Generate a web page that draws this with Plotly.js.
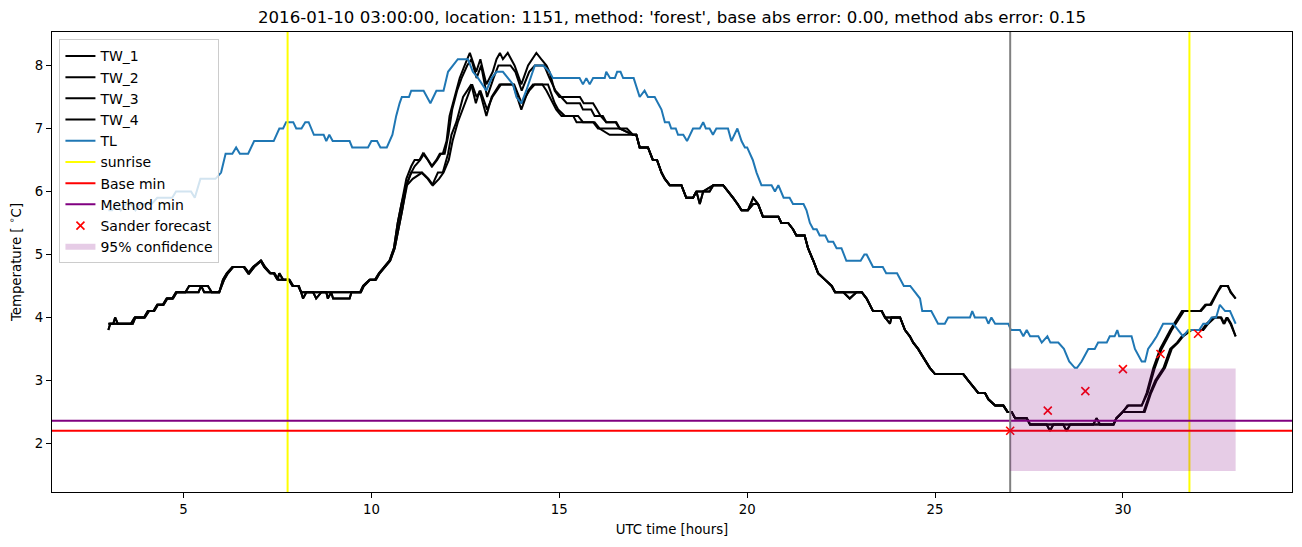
<!DOCTYPE html>
<html>
<head>
<meta charset="utf-8">
<script src="https://cdn.plot.ly/plotly-3.0.1.min.js"></script>
<style>html,body{margin:0;padding:0;background:#fff;}#chart{width:1302px;height:547px;}</style>
</head>
<body>
<div id="chart"></div>
<script>
// ---------------- data ----------------
const titleText = "2016-01-10 03:00:00, location: 1151, method: 'forest', base abs error: 0.00, method abs error: 0.15";

// TL (air temperature) breakpoints
const tl_t = [3.0,3.1,3.2,3.33,3.47,3.6,3.72,3.85,4.15,4.3,
4.7,4.8,5.2,5.3,5.45,5.85,6.0,6.12,6.3,6.4,
6.5,6.72,6.88,7.4,7.55,7.65,7.73,7.92,8.0,8.14,
8.24,8.33,8.47,8.73,8.8,8.88,8.97,9.42,9.49,9.91,
10.0,10.15,10.24,10.41,10.56,10.66,10.75,10.81,11.0,11.06,
11.39,11.57,11.73,11.92,12.04,12.17,12.3,12.57,12.7,12.84,
13.06,13.2,13.33,13.5,13.63,13.77,13.86,13.99,14.12,14.35,
14.57,14.74,14.83,15.54,15.63,15.72,15.81,15.9,16.21,16.25,
16.35,16.48,16.54,16.63,16.7,16.98,17.14,17.27,17.36,17.54,
17.72,17.81,17.92,17.98,18.1,18.16,18.3,18.4,18.56,18.74,
18.83,18.9,19.0,19.09,19.18,19.49,19.58,19.74,19.85,19.94,
20.0,20.15,20.25,20.38,20.65,20.74,20.83,20.97,21.13,21.22,
21.5,21.58,21.67,21.76,21.85,21.93,22.08,22.16,22.29,22.38,
22.51,22.64,23.02,23.12,23.18,23.35,23.61,23.7,23.99,24.17,
24.34,24.46,24.6,24.66,24.9,25.08,25.26,25.35,25.93,25.99,
26.06,26.35,26.42,26.5,26.6,26.95,27.02,27.26,27.35,27.44,
27.53,27.75,27.84,27.99,28.07,28.28,28.43,28.57,28.72,28.78,
28.9,28.99,29.08,29.25,29.34,29.57,29.65,29.78,29.85,29.9,
30.23,30.32,30.41,30.5,30.59,30.67,30.79,30.9,31.07,31.34,
31.47,31.6,31.74,32.03,32.14,32.25,32.36,32.48,32.58,32.72,
32.85,33.0];
const tl_v = [5.7,5.7,5.8,5.7,5.8,5.8,5.7,5.8,5.8,5.9,
5.9,6.0,6.0,5.9,6.2,6.2,6.3,6.6,6.6,6.7,
6.6,6.6,6.8,6.8,7.0,7.0,7.1,7.1,7.0,7.0,
7.1,7.1,6.9,6.9,6.8,6.9,6.8,6.8,6.7,6.7,
6.8,6.8,6.7,6.7,6.9,7.2,7.4,7.5,7.5,7.6,
7.6,7.4,7.6,7.6,7.9,8.0,8.1,8.1,7.9,7.8,
7.6,7.8,7.9,7.9,7.8,7.7,7.5,7.4,7.6,8.0,
8.0,7.9,7.8,7.8,7.7,7.8,7.7,7.8,7.8,7.9,
7.8,7.8,7.9,7.9,7.8,7.8,7.5,7.6,7.5,7.5,
7.3,7.1,7.1,7.0,7.0,6.9,6.9,6.8,7.0,7.0,
7.1,7.0,7.0,6.9,7.0,7.0,6.8,7.0,6.8,6.7,
6.7,6.5,6.3,6.1,6.1,6.0,6.1,5.9,5.9,5.8,
5.8,5.7,5.5,5.4,5.4,5.3,5.3,5.2,5.2,5.1,
5.1,4.9,4.9,5.0,5.0,4.8,4.8,4.7,4.7,4.5,
4.5,4.4,4.3,4.1,4.1,3.9,3.9,4.0,4.0,4.1,
4.0,4.0,3.9,4.0,3.9,3.9,3.8,3.8,3.7,3.8,
3.7,3.7,3.6,3.7,3.6,3.6,3.5,3.3,3.2,3.2,
3.3,3.4,3.5,3.5,3.6,3.6,3.7,3.7,3.8,3.7,
3.7,3.5,3.4,3.3,3.3,3.5,3.6,3.7,3.9,3.9,
3.8,3.7,3.8,3.8,3.9,3.9,4.0,4.0,4.2,4.1,
4.1,3.9];

// TW segments: early (3-10.8h), two variants
const twEarlyA_t = [3.0,3.05,3.6,3.7,3.95,4.05,4.2,4.3,4.45,4.55,4.7,4.8,5.05,5.15,5.65,5.75,5.95,6.05,6.15,6.3,6.6,6.72,6.85,7.05,7.15,7.3,7.4,7.5,7.55,7.65,7.8,7.9,8.05,8.13,9.7,9.78,9.95,10.1,10.2,10.35,10.48,10.6,10.7,10.8];
const twEarlyA_v = [3.8,3.9,3.9,4.0,4.0,4.1,4.1,4.2,4.2,4.3,4.3,4.4,4.4,4.5,4.5,4.4,4.4,4.6,4.7,4.8,4.8,4.7,4.8,4.9,4.8,4.7,4.7,4.6,4.7,4.6,4.6,4.5,4.5,4.4,4.4,4.5,4.6,4.6,4.7,4.8,4.9,5.1,5.5,5.8];
const twEarlyB_t = [3.0,3.13,3.18,3.25,3.65,3.72,3.97,4.08,4.22,4.32,4.47,4.57,4.72,4.82,5.1,5.4,5.47,5.55,5.95,6.08,6.18,6.32,6.62,6.75,6.88,7.07,7.17,7.32,7.42,7.52,7.67,7.82,7.92,8.07,8.13,8.18,8.27,8.45,8.53,8.67,8.8,8.84,8.93,8.98,9.42,9.47,9.72,9.8,9.97,10.12,10.22,10.37,10.5,10.62,10.72,10.82];
const twEarlyB_v = [3.9,3.9,4.0,3.9,3.9,4.0,4.0,4.1,4.1,4.2,4.2,4.3,4.3,4.4,4.4,4.4,4.5,4.4,4.4,4.6,4.7,4.8,4.8,4.7,4.8,4.9,4.8,4.7,4.7,4.6,4.6,4.6,4.5,4.5,4.4,4.3,4.4,4.4,4.3,4.4,4.4,4.3,4.4,4.3,4.3,4.4,4.4,4.5,4.6,4.6,4.7,4.8,4.9,5.1,5.4,5.7];

// TW segments: midday (10.9-17h), four lines
const tw1Mid_t = [10.93,11.06,11.15,11.28,11.37,11.5,11.6,11.73,11.82,11.9,12.0,12.08,12.22,12.35,12.48,12.62,12.79,12.9,13.06,13.23,13.33,13.42,13.5,13.63,13.81,13.99,14.17,14.39,14.52,14.66,14.74,14.88,15.0,15.55,15.65,15.9,16.0,16.1,16.25,16.5,16.6,16.8,16.96];
const tw1Mid_v = [6.2,6.4,6.5,6.5,6.6,6.5,6.4,6.5,6.6,6.6,6.8,7.2,7.5,7.8,8.0,8.2,7.9,8.1,7.7,7.9,8.1,8.2,8.1,8.2,8.0,7.7,8.0,8.2,8.1,8.0,7.9,7.6,7.5,7.5,7.4,7.4,7.3,7.2,7.1,7.1,7.0,7.0,6.9];
const tw2Mid_t = [10.93,11.06,11.15,11.3,11.4,11.5,11.62,11.75,11.85,11.95,12.05,12.15,12.28,12.4,12.55,12.66,12.8,12.92,13.08,13.25,13.38,13.7,13.83,14.0,14.2,14.35,14.6,14.74,14.9,15.05,15.2,15.55,15.63,15.85,15.94,16.16,16.25,16.52,16.61,16.96];
const tw2Mid_v = [6.1,6.3,6.4,6.5,6.6,6.5,6.4,6.5,6.6,6.6,6.9,7.3,7.6,7.8,8.0,8.1,7.8,8.0,7.5,7.8,8.0,8.0,7.9,7.6,7.9,8.0,8.0,7.8,7.6,7.5,7.4,7.4,7.3,7.3,7.2,7.2,7.1,7.1,7.0,6.9];
const tw3Mid_t = [10.93,11.06,11.33,11.5,11.62,11.77,11.9,12.04,12.13,12.26,12.44,12.66,12.78,12.88,13.06,13.2,13.41,13.77,13.99,14.17,14.3,14.55,14.66,14.92,15.06,15.37,15.46,15.9,16.03,16.61,16.96];
const tw3Mid_v = [6.1,6.3,6.3,6.2,6.1,6.3,6.3,6.6,6.9,7.1,7.5,7.7,7.4,7.6,7.2,7.5,7.7,7.7,7.3,7.6,7.7,7.7,7.6,7.3,7.2,7.2,7.1,7.1,7.0,7.0,6.9];
const tw4Mid_t = [10.95,11.1,11.35,11.52,11.64,11.8,11.92,12.06,12.16,12.3,12.48,12.68,12.8,12.9,13.08,13.22,13.45,13.8,14.0,14.2,14.35,14.6,14.7,14.88,14.97,15.15,15.5,15.63,15.94,16.07,16.34,16.56,16.96];
const tw4Mid_v = [6.1,6.2,6.3,6.2,6.1,6.2,6.3,6.5,6.8,7.1,7.4,7.7,7.5,7.6,7.3,7.5,7.7,7.7,7.4,7.6,7.7,7.7,7.7,7.4,7.3,7.2,7.2,7.1,7.1,7.0,6.9,6.9,6.9];

// TW segments: evening/night (17-29.8h), two variants
const twLateA_t = [17.05,17.14,17.36,17.49,17.6,17.72,17.81,17.94,18.25,18.38,18.56,18.65,18.83,19.0,19.1,19.36,19.49,19.63,19.75,19.85,20.02,20.16,20.29,20.42,20.83,20.91,21.09,21.22,21.31,21.53,21.62,21.76,21.89,22.07,22.25,22.34,22.56,22.91,23.05,23.18,23.35,23.58,23.67,23.8,23.84,24.07,24.2,24.33,24.42,24.55,24.65,24.75,24.86,25.0,25.75,25.88,26.02,26.15,26.33,26.42,26.6,26.82,26.93,27.04,27.13,27.44,27.53,29.21,29.3,29.39,29.75,29.83];
const twLateA_v = [6.9,6.7,6.7,6.5,6.5,6.3,6.2,6.1,6.1,5.9,5.9,6.0,6.0,6.0,6.1,6.1,6.0,5.9,5.8,5.7,5.7,5.8,5.8,5.6,5.6,5.5,5.5,5.4,5.3,5.3,5.1,4.9,4.7,4.6,4.5,4.4,4.4,4.4,4.4,4.3,4.1,4.1,4.0,3.9,4.0,4.0,3.8,3.7,3.6,3.5,3.4,3.3,3.2,3.1,3.1,3.0,2.9,2.8,2.8,2.7,2.6,2.6,2.5,2.5,2.4,2.4,2.3,2.3,2.4,2.3,2.3,2.4];
const twLateB_t = [17.05,17.14,17.36,17.49,17.6,17.72,17.81,17.94,18.25,18.38,18.56,18.65,18.74,18.83,19.1,19.36,19.49,19.63,19.85,20.02,20.16,20.29,20.42,20.83,20.91,21.09,21.22,21.31,21.53,21.62,21.76,21.89,22.07,22.25,22.34,22.56,22.73,22.91,23.05,23.18,23.35,23.58,23.67,23.8,24.07,24.2,24.33,24.42,24.55,24.65,24.75,24.86,25.0,25.75,25.88,26.02,26.15,26.33,26.42,26.6,26.82,26.93,27.04,27.13,27.44,27.53,27.97,28.06,28.15,28.41,28.5,28.6,29.75,29.83];
const twLateB_v = [6.9,6.7,6.7,6.5,6.5,6.3,6.2,6.1,6.1,5.9,5.9,6.0,5.8,6.0,6.1,6.1,6.0,5.9,5.7,5.7,5.9,5.8,5.6,5.6,5.5,5.5,5.4,5.3,5.3,5.1,4.9,4.7,4.6,4.5,4.4,4.4,4.3,4.4,4.4,4.3,4.1,4.1,4.0,4.0,4.0,3.8,3.7,3.6,3.5,3.4,3.3,3.2,3.1,3.1,3.0,2.9,2.8,2.8,2.7,2.6,2.6,2.5,2.5,2.4,2.4,2.3,2.3,2.2,2.3,2.3,2.2,2.3,2.3,2.4];

// TW segments: morning (30-33h)
const twEndUpA_t = [30.0,30.12,30.5,30.63,30.81,30.99,31.26,31.57,32.05,32.19,32.32,32.5,32.6,32.8,32.86,33.0];
const twEndUpA_v = [2.5,2.6,2.6,2.8,3.2,3.5,3.8,4.1,4.1,4.2,4.2,4.4,4.5,4.5,4.4,4.3];
const twEndUpB_t = [30.0,30.15,30.5,30.66,30.85,31.03,31.3,31.62,32.08,32.22,32.35,32.52,32.63,32.78,32.88,33.0];
const twEndUpB_v = [2.5,2.6,2.6,2.8,3.2,3.5,3.8,4.1,4.1,4.2,4.2,4.4,4.5,4.5,4.4,4.3];
const twEndLoA_t = [30.0,30.55,30.72,30.86,31.08,31.26,31.44,31.57,31.8,32.1,32.23,32.4,32.6,32.68,32.76,32.86,33.0];
const twEndLoA_v = [2.5,2.5,2.8,3.0,3.2,3.5,3.6,3.7,3.8,3.8,3.9,4.0,4.0,3.9,4.0,3.9,3.7];
const twEndLoB_t = [30.0,30.58,30.75,30.9,31.12,31.3,31.47,31.6,31.83,32.14,32.27,32.45,32.62,32.7,32.78,32.88,33.0];
const twEndLoB_v = [2.5,2.5,2.8,3.0,3.2,3.5,3.6,3.7,3.8,3.8,3.9,4.0,4.0,3.9,4.0,3.9,3.7];

const sunrise = [7.77, 31.77];
const forecastStart = 27;
const baseMin = 2.2;
const methodMin = 2.36;
const forecast_t = [27, 28, 29, 30, 31, 32];
const forecast_v = [2.2, 2.52, 2.83, 3.18, 3.42, 3.74];
const conf_t = [27, 33];
const conf_lo = 1.56;
const conf_hi = 3.19;

// ---------------- build series ----------------
const cat = (...a) => [].concat(...a);
const tw = [
  {name: 'TW_1', x: cat(twEarlyA_t, tw1Mid_t, twLateA_t, twEndUpA_t), y: cat(twEarlyA_v, tw1Mid_v, twLateA_v, twEndUpA_v)},
  {name: 'TW_2', x: cat(twEarlyB_t, tw2Mid_t, twLateB_t, twEndUpB_t), y: cat(twEarlyB_v, tw2Mid_v, twLateB_v, twEndUpB_v)},
  {name: 'TW_3', x: cat(twEarlyA_t, tw3Mid_t, twLateB_t, twEndLoA_t), y: cat(twEarlyA_v, tw3Mid_v, twLateB_v, twEndLoA_v)},
  {name: 'TW_4', x: cat(twEarlyB_t, tw4Mid_t, twLateA_t, twEndLoB_t), y: cat(twEarlyB_v, tw4Mid_v, twLateA_v, twEndLoB_v)}
];

const xRange = [1.5, 34.5];
const yRange = [1.228, 8.532];
const LW = 2;

const traces = [];
tw.forEach(s => traces.push({type: 'scatter', mode: 'lines', name: s.name, x: s.x, y: s.y,
  line: {color: '#000000', width: LW}}));
traces.push({type: 'scatter', mode: 'lines', name: 'TL', x: tl_t, y: tl_v, line: {color: '#1f77b4', width: LW}});

const sx = [], sy = [];
sunrise.forEach((s, i) => { if (i) { sx.push(null); sy.push(null); } sx.push(s, s); sy.push(yRange[0], yRange[1]); });
traces.push({type: 'scatter', mode: 'lines', name: 'sunrise', x: sx, y: sy, line: {color: '#ffff00', width: LW}});
traces.push({type: 'scatter', mode: 'lines', name: 'Base min', x: xRange, y: [baseMin, baseMin], line: {color: '#ff0000', width: LW}});
traces.push({type: 'scatter', mode: 'lines', name: 'Method min', x: xRange, y: [methodMin, methodMin], line: {color: '#800080', width: LW}});
traces.push({type: 'scatter', mode: 'lines', name: 'forecast start', showlegend: false, x: [forecastStart, forecastStart], y: yRange, line: {color: '#808080', width: LW}});
traces.push({type: 'scatter', mode: 'markers', name: 'Sander forecast', x: forecast_t, y: forecast_v,
  marker: {symbol: 'x-thin', size: 8, color: '#ff0000', line: {color: '#ff0000', width: 1.6}}});
traces.push({type: 'scatter', mode: 'none', name: '95% confidence', fill: 'toself', fillcolor: 'rgba(128,0,128,0.2)',
  x: [conf_t[0], conf_t[1], conf_t[1], conf_t[0], conf_t[0]], y: [conf_lo, conf_lo, conf_hi, conf_hi, conf_lo]});

const font = {family: 'DejaVu Sans, sans-serif', size: 13.3, color: '#000'};
const legFont = {family: 'DejaVu Sans, sans-serif', size: 14, color: '#000'};
const layout = {
  width: 1302, height: 547,
  margin: {l: 52, r: 10, t: 32, b: 55},
  paper_bgcolor: '#fff', plot_bgcolor: '#fff',
  font: font,
  showlegend: true,
  title: {text: titleText, font: {family: 'DejaVu Sans, sans-serif', size: 16.6, color: '#000'},
    x: 0.5, xref: 'paper', xanchor: 'center', y: 1 - 17/547, yref: 'container', yanchor: 'middle'},
  xaxis: {range: xRange, showgrid: false, zeroline: false, showline: true, mirror: true, linecolor: '#000', linewidth: 1,
    ticks: 'outside', ticklen: 5, tickcolor: '#000', tick0: 0, dtick: 5, tickfont: font,
    title: {text: 'UTC time [hours]', font: font, standoff: 8}},
  yaxis: {range: yRange, showgrid: false, zeroline: false, showline: true, mirror: true, linecolor: '#000', linewidth: 1,
    ticks: 'outside', ticklen: 5, tickcolor: '#000', tick0: 0, dtick: 1, tickfont: font,
    title: {text: 'Temperature [ <sup>∘</sup>C]', font: font, standoff: 10}},
  legend: {x: 0.006, y: 0.984, xanchor: 'left', yanchor: 'top', bgcolor: 'rgba(255,255,255,0.8)',
    bordercolor: '#cccccc', borderwidth: 1, font: legFont, tracegroupgap: 0}
};

Plotly.newPlot('chart', traces, layout, {displayModeBar: false, staticPlot: true});
</script>
</body>
</html>
